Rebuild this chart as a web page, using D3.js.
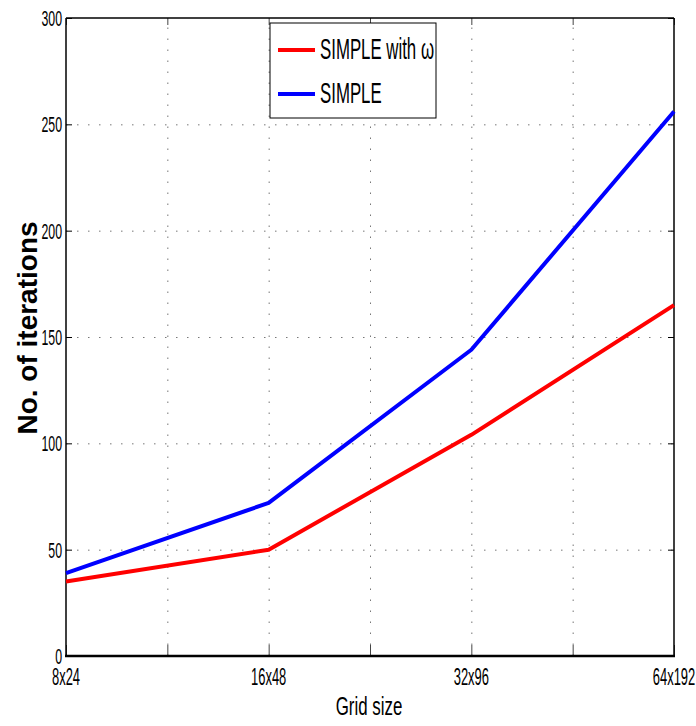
<!DOCTYPE html>
<html>
<head>
<meta charset="utf-8">
<script src="https://cdn.jsdelivr.net/npm/d3@7"></script>
<style>
body{margin:0;background:#fff}
svg text{font-family:"Liberation Sans",Arial,sans-serif;fill:#000}
</style>
</head>
<body>
<svg></svg>
<script>
var gridSizes = ["8x24", "16x48", "32x96", "64x192"];
var simpleOmega = [35, 50, 104, 165];
var simple = [39, 72, 144, 256];
var yTicks = [0, 50, 100, 150, 200, 250, 300];
var xTicks = [0, 0.5, 1, 1.5, 2, 2.5, 3];
var seriesNames = ["SIMPLE with \u03c9", "SIMPLE"];
var seriesColors = ["#ff0000", "#0000ff"];

var W = 696, H = 726;
var L = 66, R = 674, T = 18, B = 656;

var svg = d3.select('svg').attr('width', W).attr('height', H);

var x = d3.scaleLinear().domain([0, 3]).range([L, R]);
var y = d3.scaleLinear().domain([0, 300]).range([B, T]);

// dotted grid
svg.append('g')
	.attr('transform', 'translate(0,' + B + ')')
	.call(d3.axisBottom(x).tickValues(xTicks.slice(1, -1)).tickSize(-(B - T)).tickFormat(''))
	.call(function(g){ g.select('.domain').remove() })
	.selectAll('line')
		.attr('stroke', '#777')
		.attr('stroke-dasharray', '1.5,9.5');

svg.append('g')
	.attr('transform', 'translate(' + L + ',0)')
	.call(d3.axisLeft(y).tickValues(yTicks.slice(1, -1)).tickSize(-(R - L)).tickFormat(''))
	.call(function(g){ g.select('.domain').remove() })
	.selectAll('line')
		.attr('stroke', '#777')
		.attr('stroke-dasharray', '1.5,9.5');

// inner ticks
svg.append('g')
	.attr('transform', 'translate(0,' + B + ')')
	.call(d3.axisBottom(x).tickValues(xTicks).tickSize(-11).tickFormat(''))
	.call(function(g){ g.select('.domain').remove() })
	.selectAll('line').attr('stroke', '#444');
svg.append('g')
	.attr('transform', 'translate(0,' + T + ')')
	.call(d3.axisTop(x).tickValues(xTicks).tickSize(-7).tickFormat(''))
	.call(function(g){ g.select('.domain').remove() })
	.selectAll('line').attr('stroke', '#444');
svg.append('g')
	.attr('transform', 'translate(' + L + ',0)')
	.call(d3.axisLeft(y).tickValues(yTicks).tickSize(-6).tickFormat(''))
	.call(function(g){ g.select('.domain').remove() })
	.selectAll('line').attr('stroke', '#000');
svg.append('g')
	.attr('transform', 'translate(' + R + ',0)')
	.call(d3.axisRight(y).tickValues(yTicks).tickSize(-6).tickFormat(''))
	.call(function(g){ g.select('.domain').remove() })
	.selectAll('line').attr('stroke', '#000');

// box
svg.append('line').attr('x1', L).attr('x2', R).attr('y1', T).attr('y2', T).attr('stroke', '#000').attr('stroke-width', 1.5);
svg.append('line').attr('x1', L).attr('x2', L).attr('y1', T).attr('y2', B).attr('stroke', '#000').attr('stroke-width', 1.5);
svg.append('line').attr('x1', R).attr('x2', R).attr('y1', T).attr('y2', B).attr('stroke', '#000').attr('stroke-width', 1.5);
svg.append('line').attr('x1', L - 1).attr('x2', R + 1).attr('y1', B).attr('y2', B).attr('stroke', '#000').attr('stroke-width', 2.5);

// tick labels (narrow)
svg.selectAll('.ylab')
	.data(yTicks)
	.enter()
	.append('text')
	.attr('class', 'ylab')
	.attr('transform', function(d){ return 'translate(62,' + (y(d) + 8) + ') scale(0.56,1)' })
	.attr('text-anchor', 'end')
	.style('font-size', '22px')
	.text(function(d){ return d });

svg.selectAll('.xlab')
	.data(gridSizes)
	.enter()
	.append('text')
	.attr('class', 'xlab')
	.attr('transform', function(d, i){ return 'translate(' + x(i) + ',685) scale(0.54,1)' })
	.attr('text-anchor', 'middle')
	.style('font-size', '24px')
	.text(function(d){ return d });

// axis titles
svg.append('text')
	.attr('transform', 'translate(369,715) scale(0.65,1)')
	.attr('text-anchor', 'middle')
	.style('font-size', '26px')
	.text('Grid size');

svg.append('text')
	.attr('transform', 'translate(37,328) rotate(-90)')
	.attr('text-anchor', 'middle')
	.style('font-size', '28px')
	.style('font-weight', 'bold')
	.text('No. of iterations');

// lines
var line = d3.line()
	.x(function(d, i){ return x(i) })
	.y(function(d){ return y(d) });

svg.selectAll('.series')
	.data([simpleOmega, simple])
	.enter()
	.append('path')
	.attr('class', 'series')
	.attr('d', line)
	.attr('fill', 'none')
	.attr('stroke', function(d, i){ return seriesColors[i] })
	.attr('stroke-width', 4)
	.attr('stroke-linejoin', 'round');

// legend
var lg = svg.append('g');
lg.append('rect')
	.attr('x', 270).attr('y', 23).attr('width', 166).attr('height', 95)
	.attr('fill', '#fff').attr('stroke', '#000').attr('stroke-width', 1);

var rows = lg.selectAll('.lrow')
	.data(seriesNames)
	.enter()
	.append('g')
	.attr('transform', function(d, i){ return 'translate(0,' + (50 + i * 44) + ')' });
rows.append('line')
	.attr('x1', 278).attr('x2', 315).attr('y1', 0).attr('y2', 0)
	.attr('stroke', function(d, i){ return seriesColors[i] })
	.attr('stroke-width', 4);
rows.append('text')
	.attr('transform', 'translate(320,9) scale(0.58,1)')
	.style('font-size', '29px')
	.text(function(d){ return d });
</script>
</body>
</html>
